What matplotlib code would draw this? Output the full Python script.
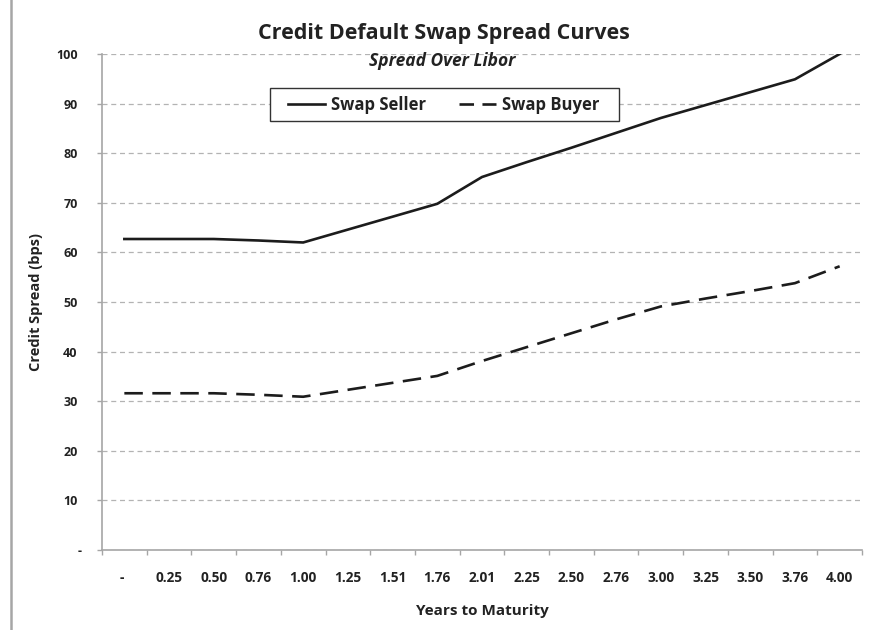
import matplotlib
matplotlib.use("Agg")
import matplotlib.pyplot as plt
from matplotlib.lines import Line2D
from matplotlib.patches import Rectangle

# Tenors (years to maturity) and spreads over Libor, in basis points
tenors = ["-", "0.25", "0.50", "0.76", "1.00", "1.25", "1.51", "1.76", "2.01",
          "2.25", "2.50", "2.76", "3.00", "3.25", "3.50", "3.76", "4.00"]
seller_spread = [62.7, 62.7, 62.7, 62.4, 62.0, 64.6, 67.2, 69.8, 75.2,
                 78.2, 81.1, 84.1, 87.1, 89.7, 92.3, 94.9, 100.0]
buyer_spread = [31.6, 31.6, 31.6, 31.3, 30.9, 32.3, 33.7, 35.1, 38.1,
                40.9, 43.7, 46.5, 49.1, 50.7, 52.2, 53.8, 57.2]
y_ticks = [0, 10, 20, 30, 40, 50, 60, 70, 80, 90, 100]
y_tick_labels = ["-", "10", "20", "30", "40", "50", "60", "70", "80", "90", "100"]

plt.rcParams["font.family"] = ["Open Sans", "DejaVu Sans"]
TEXT = "#222222"
GRAY = "#a6a6a6"
LINE = "#1c1c1c"

W, H = 873, 630
fig = plt.figure(figsize=(W / 100, H / 100), dpi=100)
fig.patch.set_facecolor("white")

left, right, top, bottom = 102, 862, 54, 550
ax = fig.add_axes([left / W, 1 - bottom / H, (right - left) / W, (bottom - top) / H])

x = list(range(len(tenors)))
ax.plot(x, seller_spread, color=LINE, lw=1.9, solid_joinstyle="miter",
        label="Swap Seller")
ax.plot(x, buyer_spread, color=LINE, lw=1.9, dashes=(7.0, 3.6),
        label="Swap Buyer")

ax.set_xlim(-0.5, len(tenors) - 0.5)
ax.set_ylim(0, 100)

# Category labels centred, tick marks on the category boundaries
ax.set_xticks(x)
ax.set_xticklabels(tenors, fontsize=9.8, fontweight="bold", color=TEXT)
ax.set_xticks([i - 0.5 for i in range(len(tenors) + 1)], minor=True)
ax.tick_params(axis="x", which="major", length=0, pad=15)
ax.tick_params(axis="x", which="minor", length=3.5, width=1, color=GRAY,
               direction="out")

ax.set_yticks(y_ticks)
ax.set_yticklabels(y_tick_labels, fontsize=9, fontweight="bold", color=TEXT)
ax.tick_params(axis="y", length=3.5, width=1, color=GRAY, direction="out", pad=14)

# The zero dashes sit slightly off the numeric label column
ax.get_xticklabels()[0].set_horizontalalignment("right")
ax.get_yticklabels()[0].set_horizontalalignment("left")

ax.grid(axis="y", color="#b3b3b3", lw=0.9, linestyle=(0, (4, 3)))
ax.set_axisbelow(True)
for side in ("top", "right"):
    ax.spines[side].set_visible(False)
for side in ("left", "bottom"):
    ax.spines[side].set_color(GRAY)
    ax.spines[side].set_linewidth(1.2)

ax.set_ylabel("Credit Spread (bps)", fontsize=10.5, fontweight="bold", color=TEXT)
ax.yaxis.set_label_coords((43 - left) / (right - left), 0.5)
ax.set_xlabel("Years to Maturity", fontsize=11, fontweight="bold", color=TEXT)
ax.xaxis.set_label_coords(0.5, -(604 - bottom) / (bottom - top))

fig.text(444 / W, 1 - 33 / H, "Credit Default Swap Spread Curves",
         ha="center", va="center", fontsize=15.5, fontweight="bold", color=TEXT)
fig.text(442 / W, 1 - 61 / H, "Spread Over Libor", ha="center", va="center",
         fontsize=12.5, fontweight="bold", fontstyle="italic", color=TEXT)

# Legend box with fixed outer frame
box_l, box_r, box_t, box_b = 270, 619, 88, 121
fig.add_artist(Rectangle((box_l / W, 1 - box_b / H), (box_r - box_l) / W,
                         (box_b - box_t) / H, transform=fig.transFigure,
                         facecolor="white", edgecolor="#333333", lw=1.0,
                         zorder=4))
leg = fig.legend(loc="center left", bbox_to_anchor=(288 / W, 1 - 104.5 / H),
                 ncol=2, handlelength=2.2, handletextpad=0.36,
                 columnspacing=2.0, borderpad=0.0, borderaxespad=0.0,
                 frameon=False, prop={"weight": "bold", "size": 12})
leg.set_zorder(5)
leg.get_lines()[1].set_dashes((5.5, 3.2))
for t in leg.get_texts():
    t.set_color(TEXT)

# Left edge rule of the chart panel
fig.add_artist(Line2D([11 / W, 11 / W], [0, 1], transform=fig.transFigure,
                      color=GRAY, lw=1.8))

fig.savefig("out.png", dpi=100, facecolor="white")
